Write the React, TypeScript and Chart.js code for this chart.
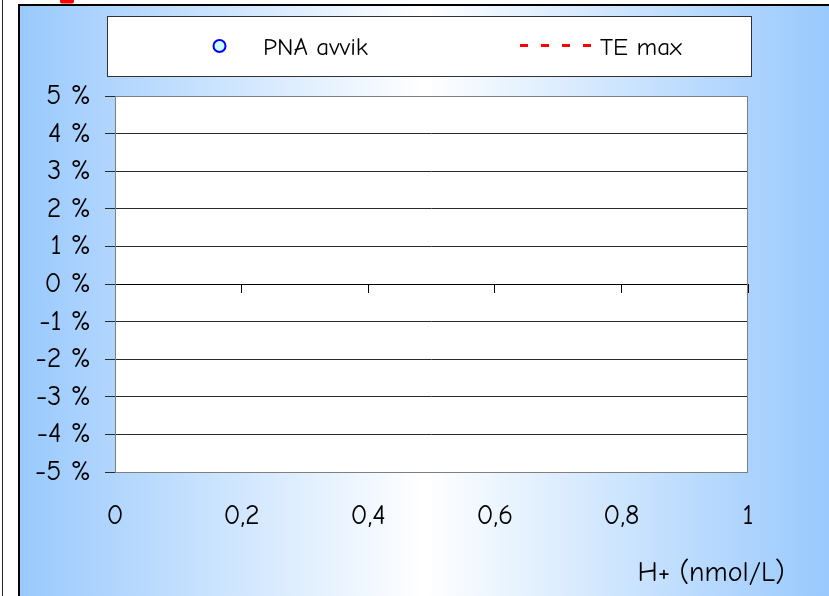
import React, { useEffect, useRef } from 'react';
import { Chart, registerables } from 'chart.js';

Chart.register(...registerables);

// Series (no measurements recorded yet)
const seriesLabels = ['PNA avvik', 'TE max'];
const pnaAvvik: { x: number; y: number }[] = [];
const teMax: { x: number; y: number }[] = [];

// Axis ranges and tick labels
const xRange = [0, 1];
const xStep = 0.2;
const yRange = [-5, 5];
const yStep = 1;
const xTickLabels = ['0', '0,2', '0,4', '0,6', '0,8', '1'];
const yTickLabels = ['-5 %', '-4 %', '-3 %', '-2 %', '-1 %', '0 %', '1 %', '2 %', '3 %', '4 %', '5 %'];
const xAxisTitle = 'H+ (nmol/L)';

const FONT_FAMILY = '"Comic Sans MS", "Comic Neue", "DejaVu Sans", sans-serif';
const tickFont = { family: FONT_FAMILY, size: 28 };

const framePlugin = {
  id: 'frame',
  beforeDraw(chart: any) {
    const { ctx, width, height, chartArea: a } = chart;
    ctx.save();
    ctx.fillStyle = '#ffffff';
    ctx.fillRect(0, 0, width, height);

    // thin rule at the far left
    ctx.fillStyle = '#1c2633';
    ctx.fillRect(2, 0, 1, height);

    // chart frame with horizontal blue-white-blue gradient
    const g = ctx.createLinearGradient(19, 0, width, 0);
    g.addColorStop(0, '#99c9fd');
    g.addColorStop(0.5, '#ffffff');
    g.addColorStop(1, '#99c9fd');
    ctx.fillStyle = g;
    ctx.fillRect(19, 5, width - 19, height - 5);
    ctx.strokeStyle = '#000000';
    ctx.lineWidth = 2;
    ctx.strokeRect(19, 5, width + 20, height + 20);

    // red fragment at the top edge
    ctx.fillStyle = '#ff0000';
    ctx.beginPath();
    ctx.moveTo(60, 0);
    ctx.lineTo(74, 0);
    ctx.lineTo(74, 1.5);
    ctx.quadraticCurveTo(74, 3.5, 71, 3.5);
    ctx.lineTo(63, 3.5);
    ctx.quadraticCurveTo(60, 3.5, 60, 1.5);
    ctx.closePath();
    ctx.fill();

    // plot area
    ctx.fillStyle = '#ffffff';
    ctx.fillRect(a.left, a.top, a.right - a.left, a.bottom - a.top);
    ctx.restore();
  },
  afterDraw(chart: any) {
    const { ctx, chartArea: a } = chart;
    ctx.save();

    // plot border
    ctx.strokeStyle = '#808080';
    ctx.lineWidth = 1;
    ctx.strokeRect(Math.round(a.left) + 0.5, Math.round(a.top) + 0.5, Math.round(a.right - a.left) - 1, Math.round(a.bottom - a.top));

    // legend box
    ctx.fillStyle = '#ffffff';
    ctx.fillRect(107, 16, 645, 61);
    ctx.strokeStyle = '#333333';
    ctx.strokeRect(107.5, 16.5, 644, 60);

    const ds = chart.data.datasets;
    ctx.font = `25px ${FONT_FAMILY}`;
    ctx.textBaseline = 'middle';
    ctx.textAlign = 'left';

    // PNA avvik marker
    const d0 = ds[0];
    ctx.beginPath();
    ctx.arc(219.5, 46, 6, 0, Math.PI * 2);
    ctx.fillStyle = d0.backgroundColor;
    ctx.fill();
    ctx.lineWidth = d0.borderWidth;
    ctx.strokeStyle = d0.borderColor;
    ctx.stroke();
    ctx.fillStyle = '#000000';
    ctx.fillText(d0.label, 263, 48);

    // TE max dashed line
    const d1 = ds[1];
    ctx.beginPath();
    ctx.setLineDash(d1.borderDash);
    ctx.lineWidth = d1.borderWidth;
    ctx.strokeStyle = d1.borderColor;
    ctx.moveTo(520, 45.5);
    ctx.lineTo(593, 45.5);
    ctx.stroke();
    ctx.setLineDash([]);
    ctx.fillStyle = '#000000';
    ctx.fillText(d1.label, 600, 48);

    // x-axis title
    ctx.font = `28px ${FONT_FAMILY}`;
    ctx.textAlign = 'center';
    ctx.fillText(xAxisTitle, 711, 573);

    ctx.restore();
  },
};

export default function App() {
  const canvasRef = useRef<HTMLCanvasElement | null>(null);

  useEffect(() => {
    if (!canvasRef.current) return;
    const chart = new Chart(canvasRef.current, {
      type: 'scatter',
      data: {
        datasets: [
          {
            label: seriesLabels[0],
            data: pnaAvvik,
            pointStyle: 'circle',
            pointRadius: 6,
            borderColor: '#0000ff',
            backgroundColor: '#ccffff',
            borderWidth: 2,
            showLine: false,
          },
          {
            label: seriesLabels[1],
            data: teMax,
            showLine: true,
            borderColor: '#ff0000',
            backgroundColor: '#ff0000',
            borderWidth: 3,
            borderDash: [8, 13],
            pointRadius: 0,
          },
        ],
      },
      options: {
        responsive: false,
        animation: false,
        events: [],
        layout: { padding: { left: 0, top: 96, right: 81, bottom: 0 } },
        plugins: {
          legend: { display: false },
          tooltip: { enabled: false },
          title: { display: false },
        },
        scales: {
          x: {
            type: 'linear',
            position: 'bottom',
            min: xRange[0],
            max: xRange[1],
            ticks: {
              stepSize: xStep,
              callback: (_v: any, i: number) => xTickLabels[i],
              color: '#000000',
              font: tickFont,
              padding: 27,
              maxRotation: 0,
              autoSkip: false,
            },
            grid: { display: false, drawTicks: false },
            border: { display: false },
            afterFit: (s: any) => {
              s.height = 124;
            },
          },
          xZero: {
            type: 'linear',
            axis: 'x',
            position: { y: 0 },
            min: xRange[0],
            max: xRange[1],
            ticks: { stepSize: xStep, display: false },
            grid: { drawOnChartArea: false, drawTicks: true, tickLength: 8, color: '#000000' },
            border: { display: true, color: '#000000', width: 1 },
          },
          y: {
            type: 'linear',
            position: 'left',
            min: yRange[0],
            max: yRange[1],
            ticks: {
              stepSize: yStep,
              callback: (_v: any, i: number) => yTickLabels[i],
              color: '#000000',
              font: tickFont,
              padding: 14,
            },
            grid: { color: '#2a2a2a', lineWidth: 1, drawTicks: true, tickLength: 10, tickColor: '#2a2a2a' },
            border: { display: false },
            afterFit: (s: any) => {
              s.width = 115;
            },
          },
        } as any,
      },
      plugins: [framePlugin],
    });
    return () => chart.destroy();
  }, []);

  return (
    <div style={{ position: 'absolute', left: 0, top: 0, width: 829, height: 596 }}>
      <canvas ref={canvasRef} width={829} height={596} style={{ display: 'block' }} />
    </div>
  );
}
